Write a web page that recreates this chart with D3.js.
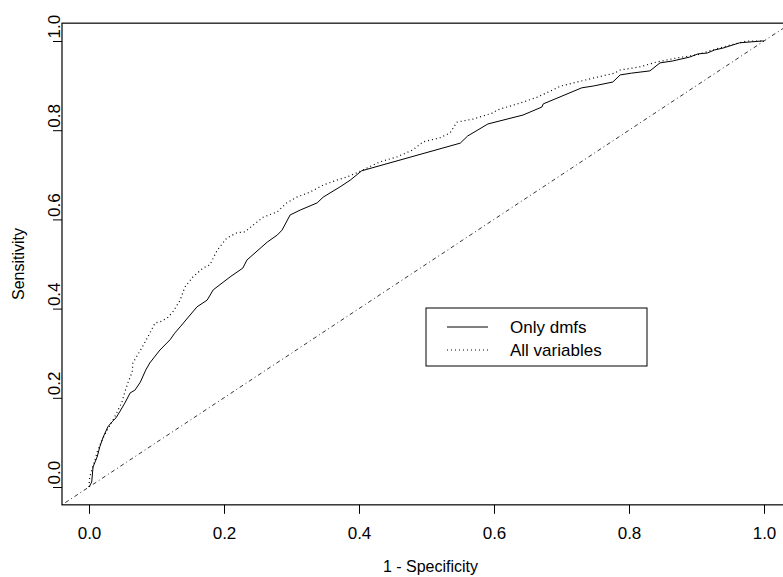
<!DOCTYPE html>
<html>
<head>
<meta charset="utf-8">
<script src="https://cdn.jsdelivr.net/npm/d3@7"></script>
<style>
  html, body { margin: 0; padding: 0; background: #fff; }
  svg text { font-family: "Liberation Sans", Arial, sans-serif; fill: #000; }
</style>
</head>
<body>
<svg id="chart" width="783" height="577"></svg>
<script>
/* ---------- data ---------- */
const xTicks = [0, 0.2, 0.4, 0.6, 0.8, 1.0];
const yTicks = [0, 0.2, 0.4, 0.6, 0.8, 1.0];
const seriesNames = ["Only dmfs", "All variables"];

// Only dmfs : [1 - specificity, sensitivity]
const dmfsFpr = [0, 0.004, 0.006, 0.012, 0.016, 0.021, 0.028, 0.034, 0.040, 0.046, 0.053, 0.061,
  0.068, 0.076, 0.084, 0.090, 0.105, 0.120, 0.127, 0.135, 0.160, 0.175, 0.184, 0.209, 0.228,
  0.234, 0.264, 0.279, 0.286, 0.298, 0.313, 0.338, 0.347, 0.372, 0.387, 0.404, 0.550, 0.561,
  0.591, 0.643, 0.671, 0.673, 0.730, 0.747, 0.776, 0.787, 0.804, 0.831, 0.846, 0.864, 0.890,
  0.902, 0.916, 0.927, 0.939, 0.964, 0.997, 1.0];
const dmfsTpr = [0, 0.011, 0.045, 0.067, 0.090, 0.112, 0.135, 0.146, 0.155, 0.170, 0.188, 0.211,
  0.217, 0.235, 0.262, 0.278, 0.307, 0.330, 0.345, 0.359, 0.404, 0.419, 0.442, 0.471, 0.491,
  0.509, 0.549, 0.565, 0.576, 0.610, 0.621, 0.637, 0.650, 0.673, 0.688, 0.709, 0.771, 0.787,
  0.814, 0.834, 0.852, 0.859, 0.895, 0.899, 0.908, 0.924, 0.928, 0.933, 0.951, 0.955, 0.964,
  0.971, 0.973, 0.980, 0.984, 0.996, 1.0, 1.0];

// All variables
const allFpr = [0, 0.001, 0.004, 0.009, 0.013, 0.021, 0.027, 0.034, 0.041, 0.049, 0.053, 0.058,
  0.064, 0.065, 0.079, 0.087, 0.098, 0.105, 0.116, 0.124, 0.135, 0.142, 0.154, 0.169, 0.179,
  0.190, 0.204, 0.219, 0.231, 0.243, 0.258, 0.279, 0.293, 0.308, 0.327, 0.347, 0.367, 0.382,
  0.399, 0.406, 0.431, 0.456, 0.480, 0.495, 0.520, 0.535, 0.545, 0.569, 0.599, 0.604, 0.639,
  0.664, 0.699, 0.723, 0.753, 0.779, 0.787, 0.816, 0.841, 0.871, 0.901, 0.924, 0.950, 0.975, 1.0];
const allTpr = [0, 0.022, 0.038, 0.061, 0.083, 0.110, 0.128, 0.146, 0.166, 0.191, 0.213, 0.235,
  0.258, 0.278, 0.314, 0.336, 0.368, 0.370, 0.379, 0.392, 0.419, 0.448, 0.471, 0.491, 0.498,
  0.531, 0.558, 0.570, 0.572, 0.587, 0.605, 0.617, 0.637, 0.650, 0.661, 0.677, 0.688, 0.695,
  0.706, 0.711, 0.729, 0.740, 0.756, 0.774, 0.783, 0.794, 0.818, 0.825, 0.839, 0.845, 0.861,
  0.874, 0.899, 0.908, 0.919, 0.928, 0.935, 0.942, 0.953, 0.962, 0.969, 0.980, 0.991, 1.0, 1.0];

/* ---------- layout ---------- */
const svg = d3.select("#chart");
const plot = { left: 62, right: 791, top: 23.16, bottom: 504.84 };

const x = d3.scaleLinear().domain([-0.04, 1.04]).range([plot.left, plot.right]);
const y = d3.scaleLinear().domain([-0.04, 1.04]).range([plot.bottom, plot.top]);

svg.append("clipPath").attr("id", "clip")
  .append("rect")
  .attr("x", plot.left).attr("y", plot.top)
  .attr("width", plot.right - plot.left).attr("height", plot.bottom - plot.top);

const line = d3.line().x(d => x(d[0])).y(d => y(d[1]));
const g = svg.append("g").attr("clip-path", "url(#clip)");

// chance diagonal (abline 0,1), dash-dot
g.append("path")
  .attr("d", line([[-0.04, -0.04], [1.04, 1.04]]))
  .attr("fill", "none").attr("stroke", "#000").attr("stroke-width", 0.8)
  .attr("stroke-dasharray", "1 3 4 3");

g.append("path")
  .attr("d", line(d3.zip(dmfsFpr, dmfsTpr)))
  .attr("fill", "none").attr("stroke", "#000").attr("stroke-width", 1);

g.append("path")
  .attr("d", line(d3.zip(allFpr, allTpr)))
  .attr("fill", "none").attr("stroke", "#000").attr("stroke-width", 1.2)
  .attr("stroke-dasharray", "1 3");

/* ---------- axes ---------- */
const xAxis = svg.append("g")
  .attr("transform", `translate(0,${plot.bottom})`)
  .call(d3.axisBottom(x).tickValues(xTicks).tickSize(9).tickSizeOuter(0)
    .tickFormat(d3.format(".1f")));
xAxis.select(".domain").remove();
xAxis.selectAll("line").attr("stroke", "#000");
xAxis.selectAll("text").attr("font-size", 17).attr("dy", null).attr("y", 34);

const yAxis = svg.append("g")
  .attr("transform", `translate(${plot.left},0)`)
  .call(d3.axisLeft(y).tickValues(yTicks).tickSize(9).tickSizeOuter(0)
    .tickFormat(d3.format(".1f")));
yAxis.select(".domain").remove();
yAxis.selectAll("line").attr("stroke", "#000");
yAxis.selectAll("text")
  .attr("font-size", 17).attr("x", null).attr("dy", null)
  .attr("text-anchor", "start")
  .attr("transform", "translate(-2,-3) rotate(-90)");

// box
svg.append("rect")
  .attr("x", plot.left).attr("y", plot.top)
  .attr("width", plot.right - plot.left).attr("height", plot.bottom - plot.top)
  .attr("fill", "none").attr("stroke", "#000").attr("stroke-width", 1.2);

// axis titles
svg.append("text")
  .attr("x", (plot.left + plot.right) / 2 + 4).attr("y", 572)
  .attr("text-anchor", "middle").attr("font-size", 16)
  .text("1 - Specificity");

svg.append("text")
  .attr("transform", `translate(24,${(plot.top + plot.bottom) / 2}) rotate(-90)`)
  .attr("text-anchor", "middle").attr("font-size", 16)
  .text("Sensitivity");

/* ---------- legend ---------- */
const legend = svg.append("g").attr("transform", "translate(426,308)");
legend.append("rect")
  .attr("width", 221).attr("height", 58)
  .attr("fill", "#fff").attr("stroke", "#000").attr("stroke-width", 1);

const dashes = [null, "1 3"];
seriesNames.forEach((name, i) => {
  const ry = 19 + i * 23;
  legend.append("line")
    .attr("x1", 21).attr("x2", 62).attr("y1", ry).attr("y2", ry)
    .attr("stroke", "#000").attr("stroke-width", 1)
    .attr("stroke-dasharray", dashes[i]);
  legend.append("text")
    .attr("x", 84).attr("y", ry + 6)
    .attr("font-size", 17)
    .text(name);
});
</script>
</body>
</html>
